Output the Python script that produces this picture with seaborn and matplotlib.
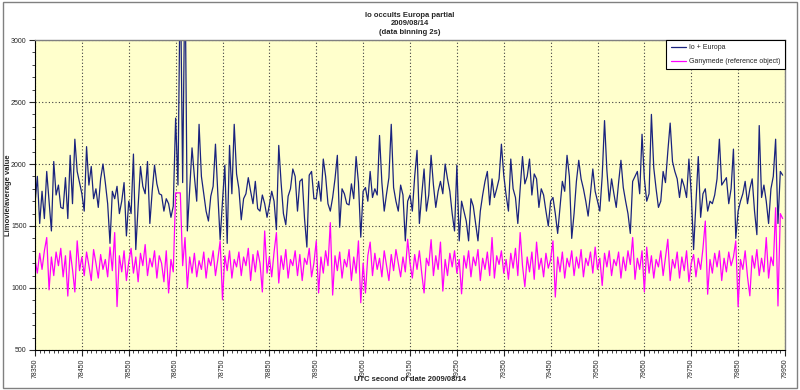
import numpy as np
import pandas as pd
import seaborn as sns
import matplotlib
matplotlib.use("Agg")
import matplotlib.pyplot as plt
from matplotlib.ticker import MultipleLocator
from matplotlib.patches import Rectangle

# UTC seconds (5 s steps)
t_start = 78350
t_step = 5

io_europa = [
    1680, 1900, 1520, 1780, 1560, 1940, 1700, 1460, 2020, 1750,
    1830, 1650, 1640, 1890, 1560, 2070, 1680, 2200, 1940, 1850,
    1760, 1620, 2140, 1830, 1980, 1720, 1800, 1650, 1880, 2000,
    1850, 1680, 1360, 1780, 1720, 1820, 1600, 1700, 1850, 1420,
    1700, 1600, 2080, 1310, 1660, 1980, 1820, 1760, 2020, 1520,
    1780, 1990, 1840, 1760, 1750, 1620, 1720, 1680, 1570, 1660,
    2370, 1830, 3600, 1850, 3600, 1460, 1800, 2130, 1900, 1700,
    2320, 1900, 1760, 1620, 1540, 1740, 1820, 2160, 1760, 1390,
    1700, 1990, 1360, 2150, 1760, 2320, 1920, 1800, 1550, 1720,
    1760, 1890, 1780, 1680, 1860, 1640, 1620, 1750, 1680, 1570,
    1670, 1780, 1700, 1470, 2150, 1850, 1600, 1510, 1740, 1800,
    1960, 1900, 1620, 1860, 1880, 1560, 1330, 1910, 1940, 1720,
    1720, 1860, 1700, 2040, 1900, 1680, 1620, 1730, 1880, 2070,
    1490, 1800, 1760, 1680, 1670, 1840, 1720, 2060, 1850, 1410,
    1780, 1810, 1700, 1940, 1730, 1800, 1750, 2230, 1850, 1620,
    1760, 1890, 2320, 1810, 1700, 1620, 1830, 1750, 1380, 1700,
    1750, 1620, 1900, 2110, 1520, 1750, 1960, 1620, 1750, 2070,
    1830, 1650, 1780, 1860, 1760, 2000, 1880, 1780, 1600, 1460,
    1990, 1380, 1700, 1620, 1540, 1380, 1720, 1660, 1520, 1380,
    1620, 1750, 1860, 1940, 1670, 1880, 1730, 1800, 1880, 2160,
    1910, 1750, 1620, 2040, 1800, 1730, 1520, 1800, 2060, 1840,
    1900, 2040, 1750, 1920, 1880, 1650, 1800, 1750, 1620, 1500,
    1700, 1730, 1600, 1440, 1650, 1860, 1780, 2070, 1900, 1400,
    1600, 1860, 2030, 1880, 1800, 1700, 1580, 1760, 1960, 1780,
    1700, 1620, 1900, 2350, 1950, 1700, 1880, 1760, 1650, 1850,
    2030, 1810, 1700, 1600, 1440, 1860, 1900, 1940, 1760, 2240,
    1880, 1700, 1760, 2400, 1970, 1800, 1650, 1700, 1940, 1850,
    2100, 2330, 2020, 1940, 1880, 1730, 1880, 1820, 1730, 2040,
    1760, 1310, 1680, 2060, 1570, 1760, 1800, 1620, 1700, 1680,
    1750, 1880, 2200, 1830, 1860, 1890, 1680, 1800, 2120, 1400,
    1620, 1700, 1760, 1860, 1680, 1800, 1880, 1620, 1430, 2310,
    1730, 1830, 1700, 1520, 1800, 1900, 2200, 1520, 1940, 1910,
]

ganymede = [
    1230, 1120, 1280, 1150, 1300, 1407, 985, 1250, 1100, 1290,
    1180, 1320, 1090, 1260, 935, 1300, 1150, 968, 1380, 1140,
    1250, 1100, 1290, 1180, 1060, 1310, 1200, 1080, 1270, 1150,
    1230, 1090, 1330, 1140, 1447, 850, 1260, 1130, 1300, 1060,
    1210, 1320, 1120, 1250, 1050, 1280, 1180, 1350, 1100, 1240,
    1170, 1300, 1080, 1260, 1200, 1050, 1300, 960, 1230, 1130,
    1767, 1767, 1767, 1180, 1407, 1000, 1250, 1120, 1280, 1090,
    1220, 1150, 1290, 1080, 1240, 1180, 1300, 1100, 1230, 1380,
    905, 1260, 1140, 1300, 1080, 1230, 1170, 1290, 1100, 1250,
    1180, 1320, 1060, 1270, 1130, 1300, 1200, 968, 1460, 1120,
    1250, 1090, 1290, 1447, 1040, 1260, 1150, 1310, 1080, 1230,
    1180, 1300, 1100, 1270, 1060, 1240, 1190, 1320, 1090, 1200,
    1380, 960, 1250, 1120, 1300, 1180, 1527, 943, 1260, 1140,
    1290, 1080, 1230, 1170, 1310, 1060, 1250, 1120, 1380, 881,
    1200, 960, 1260, 1370, 1100, 1280, 1150, 1240, 1090, 1300,
    1180, 1060, 1270, 1140, 1310, 1200, 1090, 1250, 1130, 1393,
    1200, 1080, 1270, 1150, 1300, 1120, 960, 1240, 1180, 1390,
    1100, 1260, 1150, 1370, 975, 1230, 1100, 1280, 1170, 1300,
    1120, 1230, 953, 1260, 1160, 1300, 1090, 1250, 1180, 1310,
    1060, 1240, 1150, 1290, 1100, 1407, 1080, 1260, 1190, 1300,
    1120, 1230, 1070, 1280, 1160, 1320, 1100, 1447, 1180, 1010,
    1250, 1130, 1290, 1070, 1370, 1150, 1240, 1090, 1280, 1160,
    1230, 1380, 927, 1250, 1130, 1290, 1080, 1240, 1170, 1300,
    1100, 1250, 1160, 1310, 1090, 1240, 1180, 1290, 1120, 1330,
    1150, 1240, 1020, 1280, 1170, 1300, 1100, 1230, 1180, 1290,
    1080, 1250, 1140, 1300, 1190, 1407, 1070, 1240, 1150, 1300,
    968, 1330, 1120, 1260, 1080, 1230, 1170, 1300, 1100, 1250,
    1393, 1060, 1230, 1160, 1290, 1080, 1250, 1140, 1300, 1050,
    1200, 1270, 1090, 1240, 1150, 1320, 1540, 950, 1230, 1120,
    1280, 1170, 1300, 1060, 1240, 1130, 1290, 1180, 1250, 1380,
    849, 1230, 1150, 1300, 1090, 937, 1260, 1160, 1310, 1100,
    1240, 1130, 1407, 1080, 1250, 1180, 1647, 855, 1600, 1560,
]

utc = t_start + t_step * np.arange(len(io_europa))
df = pd.DataFrame({"utc": utc, "io": io_europa, "gan": ganymede})

sns.set_style("white")
plt.rcParams["font.family"] = ["Liberation Sans", "DejaVu Sans"]

fig = plt.figure(figsize=(8, 3.9), dpi=100)
ax = fig.add_axes([0.04375, 0.1026, 0.9375, 0.7948])
ax.set_facecolor("#FFFFCC")

sns.lineplot(data=df, x="utc", y="io", color="#1a237e", lw=0.9,
             label="Io + Europa", ax=ax)
sns.lineplot(data=df, x="utc", y="gan", color="#FF00FF", lw=0.9,
             label="Ganymede (reference object)", ax=ax)

ax.set_xlim(78350, 79950)
ax.set_ylim(500, 3000)
ax.xaxis.set_major_locator(MultipleLocator(100))
ax.xaxis.set_minor_locator(MultipleLocator(10))
ax.yaxis.set_major_locator(MultipleLocator(500))
ax.yaxis.set_minor_locator(MultipleLocator(100))
ax.set_xticks(np.arange(78350, 79951, 100))
ax.tick_params(axis="x", which="major", labelsize=5, rotation=90,
               length=4, width=0.8, direction="out", pad=2, bottom=True)
ax.tick_params(axis="y", which="major", labelsize=5, length=4,
               width=0.8, direction="out", pad=2, left=True)
ax.tick_params(which="minor", length=2, width=0.6, direction="out",
               bottom=True, left=True)
ax.grid(True, which="major", color="#404040", ls=(0, (1, 2)), lw=0.8)

for side in ["top", "right"]:
    ax.spines[side].set_color("#808080")
    ax.spines[side].set_linewidth(1.0)
for side in ["left", "bottom"]:
    ax.spines[side].set_color("black")
    ax.spines[side].set_linewidth(0.8)

ax.set_xlabel("UTC second of date 2009/08/14", fontsize=5.5,
              fontweight="bold")
ax.set_ylabel("Limovie/average value", fontsize=5.5, fontweight="bold")
ax.xaxis.set_label_coords(0.5, -0.085)
ax.yaxis.set_label_coords(-0.031, 0.5)
fig.text(0.5125, 0.97, "Io occults Europa partial\n2009/08/14\n(data binning 2s)",
         ha="center", va="top", fontsize=5.5, fontweight="bold",
         linespacing=1.35)

leg = ax.legend(loc="upper right", fontsize=5, frameon=True,
                fancybox=False, edgecolor="black", framealpha=1,
                borderaxespad=0, handlelength=2.2, handletextpad=0.5,
                borderpad=0.6, labelspacing=1.0)
leg.get_frame().set_linewidth(0.8)

fig.patches.append(Rectangle((0.004, 0.006), 0.992, 0.988,
                             transform=fig.transFigure, fill=False,
                             edgecolor="#808080", lw=1.0))

fig.savefig("out.png", dpi=100, facecolor="white")
